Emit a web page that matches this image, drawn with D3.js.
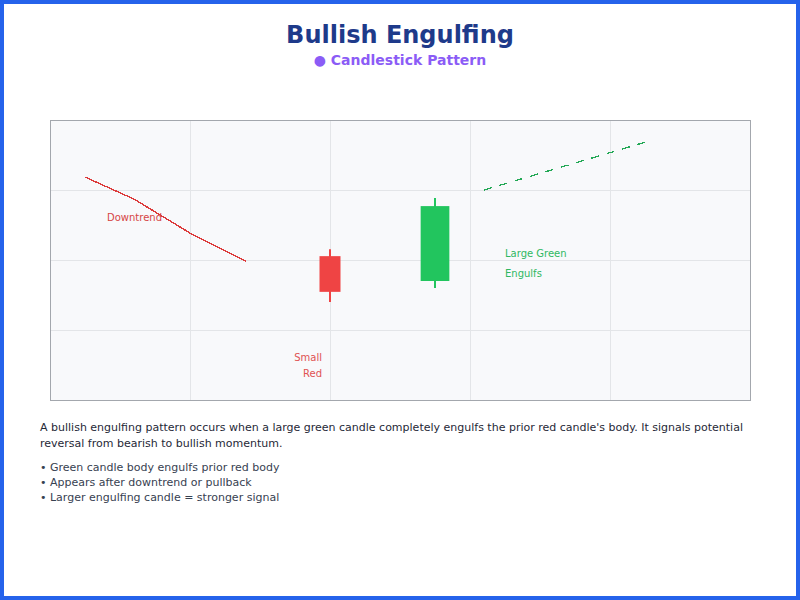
<!DOCTYPE html>
<html>
<head>
<meta charset="utf-8">
<script src="https://cdn.jsdelivr.net/npm/d3@7"></script>
<style>
  html, body { margin: 0; padding: 0; background: #fff; }
  svg { display: block; font-family: "DejaVu Sans", sans-serif; }
</style>
</head>
<body>
<svg id="chart" width="800" height="600"></svg>
<script>
// ---- data ----
const xTicks = [0, 2, 4, 6, 8, 10];
const yTicks = [0, 2, 4, 6, 8];
const trendDownX = [0.5, 1.2, 2.0, 2.8];
const trendDownY = [6.37, 5.74, 4.77, 3.97];
const trendUpX = [6.2, 8.51];
const trendUpY = [6.0, 7.37];
const candleNames = ["Small Red", "Large Green"];
const candleX = [4.0, 5.5];
const candleOpen = [4.11, 3.4];
const candleClose = [3.09, 5.54];
const candleHigh = [4.31, 5.77];
const candleLow = [2.8, 3.2];
const candleWidth = [0.3, 0.41];
const descLines = [
  "A bullish engulfing pattern occurs when a large green candle completely engulfs the prior red candle's body. It signals potential",
  "reversal from bearish to bullish momentum."
];
const bullets = [
  "Green candle body engulfs prior red body",
  "Appears after downtrend or pullback",
  "Larger engulfing candle = stronger signal"
];

const svg = d3.select("#chart");
// outer border
svg.append("rect").attr("x", 2).attr("y", 2).attr("width", 796).attr("height", 596)
  .attr("fill", "#fff").attr("stroke", "#2563eb").attr("stroke-width", 4);

// title
svg.append("text").attr("x", 400).attr("y", 43).attr("text-anchor", "middle")
  .attr("font-size", 24).attr("font-weight", "bold").attr("fill", "#1e3a8a")
  .text("Bullish Engulfing");
svg.append("text").attr("x", 400).attr("y", 65).attr("text-anchor", "middle")
  .attr("font-size", 14).attr("font-weight", "bold").attr("fill", "#8b5cf6")
  .text("● Candlestick Pattern");

// plot
const x = d3.scaleLinear().domain([0, 10]).range([50, 750]);
const y = d3.scaleLinear().domain([0, 8]).range([400, 120]);

svg.append("rect").attr("x", x(0)).attr("y", y(8)).attr("width", x(10) - x(0)).attr("height", y(0) - y(8))
  .attr("fill", "#f8f9fb");

const grid = svg.append("g");
grid.selectAll(".gx").data(xTicks.slice(1, -1)).enter().append("line")
  .attr("x1", d => x(d)).attr("x2", d => x(d)).attr("y1", y(0)).attr("y2", y(8))
  .attr("stroke", "#e3e5e8").attr("stroke-width", 1).attr("shape-rendering", "crispEdges");
grid.selectAll(".gy").data(yTicks.slice(1, -1)).enter().append("line")
  .attr("y1", d => y(d)).attr("y2", d => y(d)).attr("x1", x(0)).attr("x2", x(10))
  .attr("stroke", "#e3e5e8").attr("stroke-width", 1).attr("shape-rendering", "crispEdges");

svg.append("rect").attr("x", x(0) + 0.5).attr("y", y(8) + 0.5).attr("width", x(10) - x(0)).attr("height", y(0) - y(8))
  .attr("fill", "none").attr("stroke", "#a3a7ad").attr("stroke-width", 1);

const line = d3.line().x(d => x(d[0])).y(d => y(d[1]));
svg.append("path").datum(trendDownX.map((v, i) => [v, trendDownY[i]]))
  .attr("d", line).attr("fill", "none").attr("stroke", "#dc3b3b").attr("stroke-width", 1.4)
  .attr("shape-rendering", "crispEdges");
svg.append("path").datum(trendUpX.map((v, i) => [v, trendUpY[i]]))
  .attr("d", line).attr("fill", "none").attr("stroke", "#22a855").attr("stroke-width", 1.3)
  .attr("stroke-dasharray", "8,8").attr("shape-rendering", "crispEdges");

const colors = ["#ef4444", "#22c55e"];
candleX.forEach((cx, i) => {
  svg.append("line").attr("x1", x(cx)).attr("x2", x(cx))
    .attr("y1", y(candleHigh[i])).attr("y2", y(candleLow[i]))
    .attr("stroke", colors[i]).attr("stroke-width", 2);
  const top = Math.max(candleOpen[i], candleClose[i]);
  const bot = Math.min(candleOpen[i], candleClose[i]);
  const w = x(candleWidth[i]) - x(0);
  svg.append("rect").attr("x", x(cx) - w / 2).attr("y", y(top))
    .attr("width", w).attr("height", y(bot) - y(top)).attr("fill", colors[i]);
});

// annotations
svg.append("text").attr("x", 107).attr("y", 221).attr("font-size", 10).attr("fill", "#d64545").text("Downtrend");
svg.append("text").attr("x", 322).attr("y", 361).attr("text-anchor", "end").attr("font-size", 10).attr("fill", "#e05252").text("Small");
svg.append("text").attr("x", 322).attr("y", 377).attr("text-anchor", "end").attr("font-size", 10).attr("fill", "#e05252").text("Red");
svg.append("text").attr("x", 505).attr("y", 257).attr("font-size", 10).attr("fill", "#2fb862").text("Large Green");
svg.append("text").attr("x", 505).attr("y", 277).attr("font-size", 10).attr("fill", "#2fb862").text("Engulfs");

// description
descLines.forEach((t, i) => {
  svg.append("text").attr("x", 40).attr("y", 431 + i * 16).attr("font-size", 11).attr("fill", "#1f2937").text(t);
});
bullets.forEach((t, i) => {
  svg.append("text").attr("x", 40).attr("y", 471 + i * 15).attr("font-size", 11).attr("fill", "#374151").text("• " + t);
});
</script>
</body>
</html>
